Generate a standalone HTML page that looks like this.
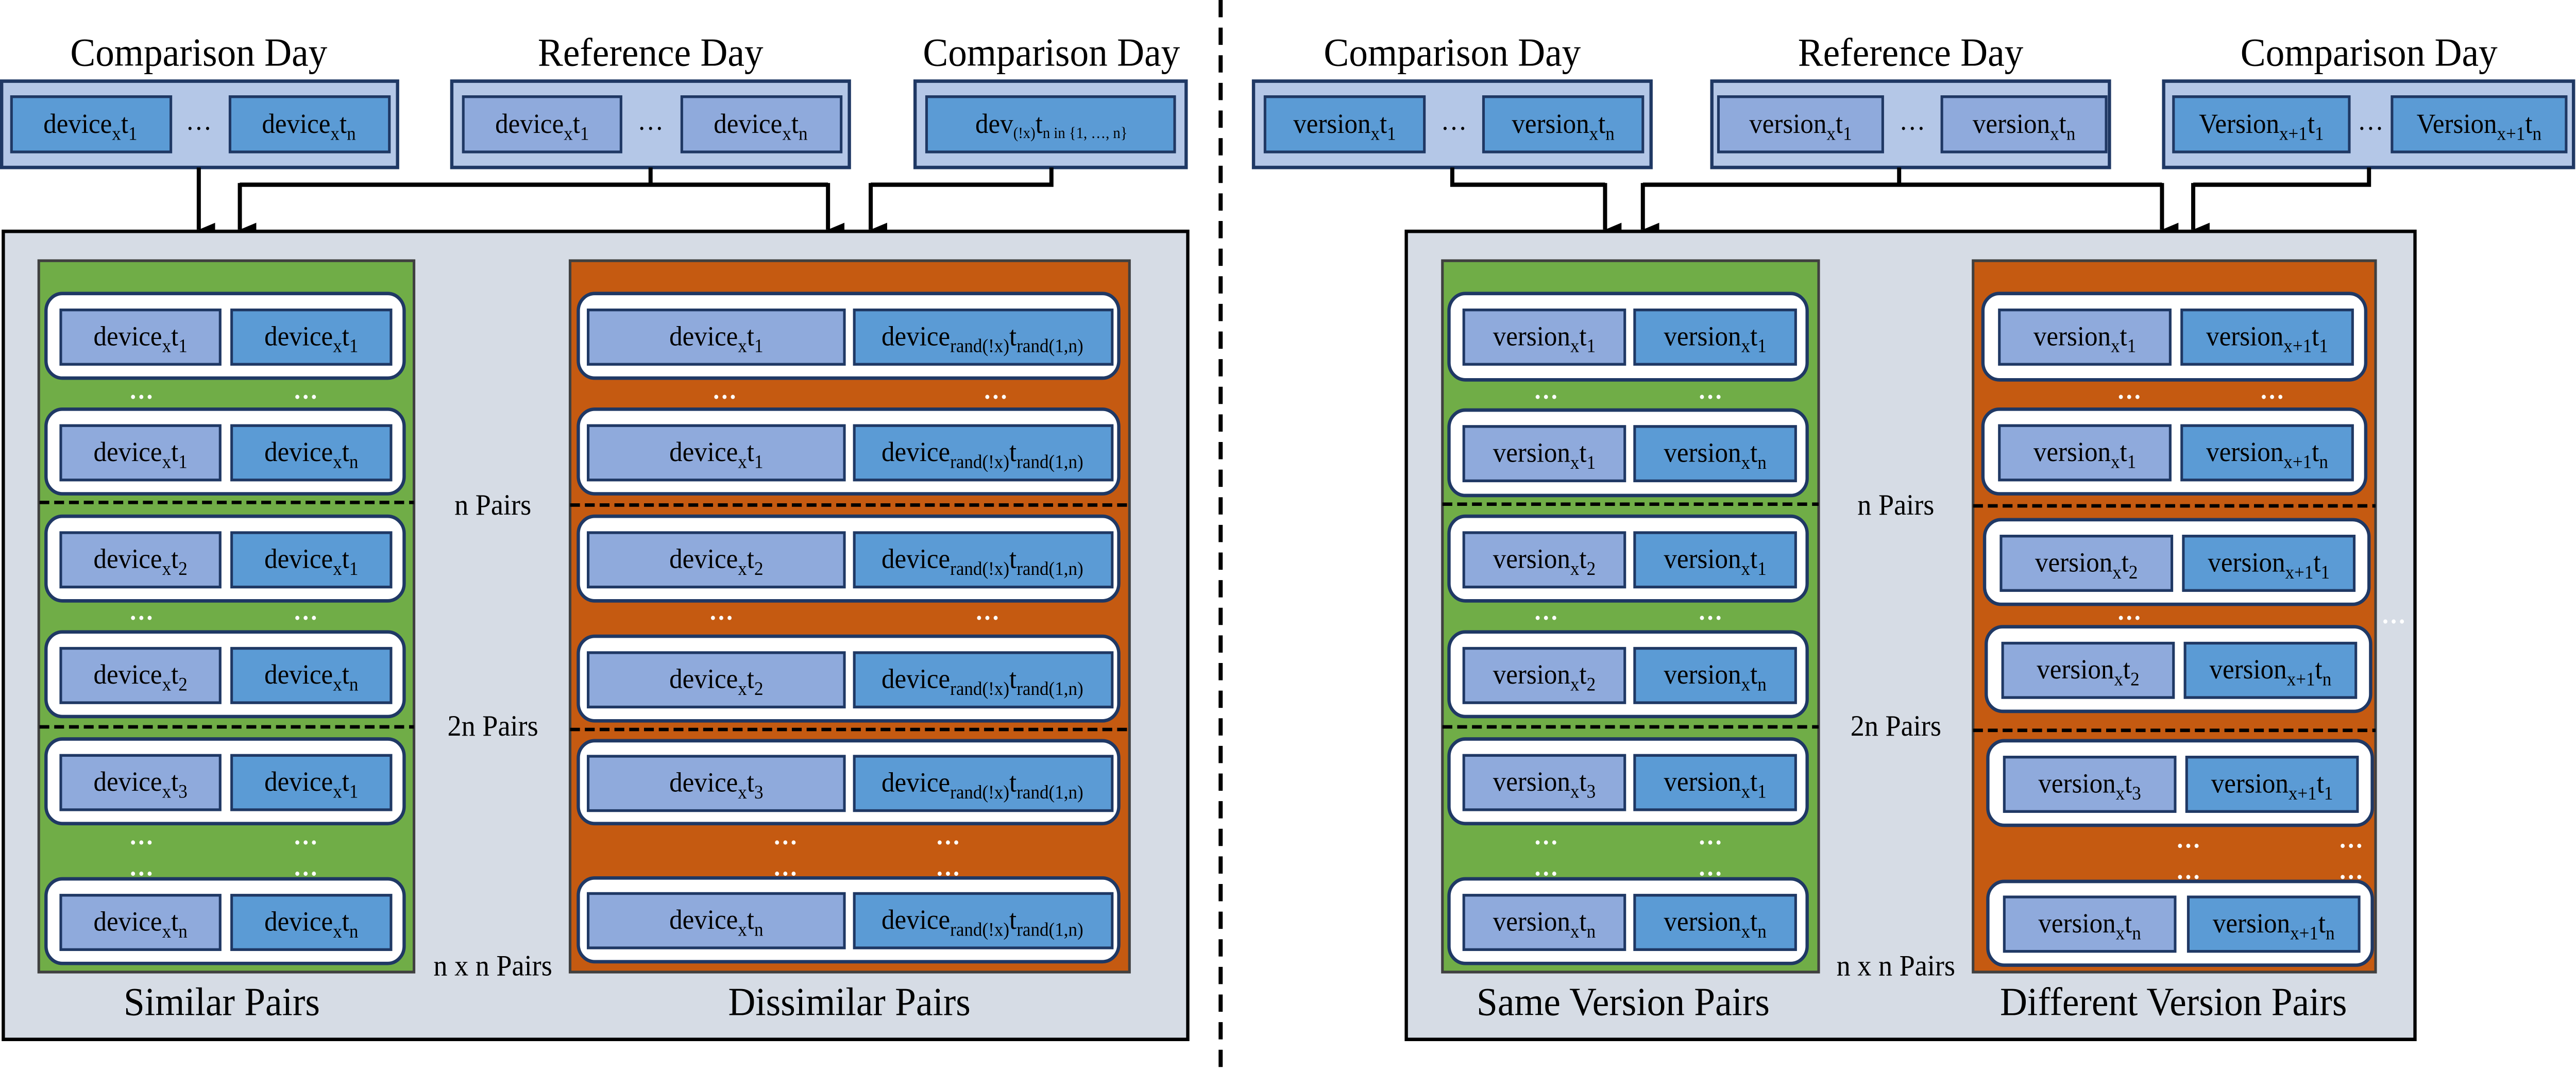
<!DOCTYPE html>
<html><head><meta charset="utf-8"><style>
html,body{margin:0;padding:0;background:#fff;width:100%;height:100%;overflow:hidden;}
svg{display:block;width:100vw;height:100vh;}
text{font-family:"Liberation Serif",serif;fill:#000;}
.t{font-size:16px;text-anchor:middle;}
.h{font-size:23px;text-anchor:middle;}
.p{font-size:17px;text-anchor:middle;}
.d{font-size:15px;fill:#fff;text-anchor:middle;font-weight:bold;}
.row{fill:#fff;stroke:#1F3864;stroke-width:2;}
.bl{fill:#8FAADC;stroke:#1F3864;stroke-width:1.6;}
.bm{fill:#5B9BD5;stroke:#1F3864;stroke-width:1.6;}
.top{fill:#B4C7E7;stroke:#1F3864;stroke-width:2;}
.dash{stroke:#000;stroke-width:2;stroke-dasharray:6 3;}
.ar{stroke:#000;stroke-width:2.5;fill:none;}
</style></head><body>
<svg viewBox="0 0 1568 620.3" preserveAspectRatio="none" xmlns="http://www.w3.org/2000/svg">
<defs>
<marker id="ah" markerWidth="8" markerHeight="10" refX="4" refY="10" orient="auto" markerUnits="userSpaceOnUse" viewBox="0 0 8 10"><path d="M0,0 L8,0 L4,10 z" fill="#000"/></marker>
</defs>
<rect x="0" y="0" width="1568" height="620.3" fill="#fff"/>
<line x1="743" y1="0" x2="743" y2="620" stroke="#000" stroke-width="2.5" stroke-dasharray="10 6"/>

<text class="h" x="121" y="38">Comparison Day</text>
<text class="h" x="396" y="38">Reference Day</text>
<text class="h" x="640" y="38">Comparison Day</text>
<rect class="top" x="1" y="47" width="241" height="50"/>
<rect class="bm" x="7" y="56" width="97" height="32"/>
<rect class="bm" x="140" y="56" width="97" height="32"/>
<text class="t" x="55" y="77">device<tspan dy="4" font-size="11">x</tspan><tspan dy="-4">t</tspan><tspan dy="4" font-size="11">1</tspan></text>
<text class="t" x="188" y="77">device<tspan dy="4" font-size="11">x</tspan><tspan dy="-4">t</tspan><tspan dy="4" font-size="11">n</tspan></text>
<text class="t" x="121" y="75">…</text>
<rect class="top" x="275" y="47" width="242" height="50"/>
<rect class="bl" x="282" y="56" width="96" height="32"/>
<rect class="bl" x="415" y="56" width="97" height="32"/>
<text class="t" x="330" y="77">device<tspan dy="4" font-size="11">x</tspan><tspan dy="-4">t</tspan><tspan dy="4" font-size="11">1</tspan></text>
<text class="t" x="463" y="77">device<tspan dy="4" font-size="11">x</tspan><tspan dy="-4">t</tspan><tspan dy="4" font-size="11">n</tspan></text>
<text class="t" x="396" y="75">…</text>
<rect class="top" x="557" y="47" width="165" height="50"/>
<rect class="bm" x="564" y="56" width="151" height="32"/>
<text class="t" x="640" y="77" font-size="14">dev<tspan dy="3" font-size="9">(!x)</tspan><tspan dy="-3">t</tspan><tspan dy="3" font-size="9">n in {1, …, n}</tspan></text>

<line class="ar" x1="121" y1="97" x2="121" y2="133" marker-end="url(#ah)"/>
<polyline class="ar" points="396,97 396,107"/>
<polyline class="ar" points="146,107 504,107"/>
<line class="ar" x1="146" y1="106" x2="146" y2="133" marker-end="url(#ah)"/>
<line class="ar" x1="504" y1="106" x2="504" y2="133" marker-end="url(#ah)"/>
<polyline class="ar" points="640,97 640,107 530,107"/>
<line class="ar" x1="530" y1="106" x2="530" y2="133" marker-end="url(#ah)"/>

<rect x="2" y="134" width="721" height="468" fill="#D6DCE5" stroke="#000" stroke-width="2"/>
<rect x="23.6" y="151" width="228.4" height="412" fill="#70AD47" stroke="#404040" stroke-width="1.6"/>
<rect x="347" y="151" width="340.5" height="412" fill="#C55A11" stroke="#404040" stroke-width="1.6"/>
<line class="dash" x1="24" y1="291" x2="252" y2="291"/>
<line class="dash" x1="24" y1="421" x2="252" y2="421"/>
<line class="dash" x1="347" y1="292.5" x2="687" y2="292.5"/>
<line class="dash" x1="347" y1="422.5" x2="687" y2="422.5"/>

<g>
<rect class="row" x="28" y="170" width="218" height="49" rx="10"/><rect class="bl" x="37" y="179.5" width="97" height="31.5"/><rect class="bm" x="141" y="179.5" width="97" height="31.5"/>
<text class="t" x="85.5" y="200">device<tspan dy="4" font-size="11">x</tspan><tspan dy="-4">t</tspan><tspan dy="4" font-size="11">1</tspan></text>
<text class="t" x="189.5" y="200">device<tspan dy="4" font-size="11">x</tspan><tspan dy="-4">t</tspan><tspan dy="4" font-size="11">1</tspan></text>
<rect class="row" x="28" y="237" width="218" height="49" rx="10"/><rect class="bl" x="37" y="246.5" width="97" height="31.5"/><rect class="bm" x="141" y="246.5" width="97" height="31.5"/>
<text class="t" x="85.5" y="267">device<tspan dy="4" font-size="11">x</tspan><tspan dy="-4">t</tspan><tspan dy="4" font-size="11">1</tspan></text>
<text class="t" x="189.5" y="267">device<tspan dy="4" font-size="11">x</tspan><tspan dy="-4">t</tspan><tspan dy="4" font-size="11">n</tspan></text>
<rect class="row" x="28" y="299" width="218" height="49" rx="10"/><rect class="bl" x="37" y="308.5" width="97" height="31.5"/><rect class="bm" x="141" y="308.5" width="97" height="31.5"/>
<text class="t" x="85.5" y="329">device<tspan dy="4" font-size="11">x</tspan><tspan dy="-4">t</tspan><tspan dy="4" font-size="11">2</tspan></text>
<text class="t" x="189.5" y="329">device<tspan dy="4" font-size="11">x</tspan><tspan dy="-4">t</tspan><tspan dy="4" font-size="11">1</tspan></text>
<rect class="row" x="28" y="366" width="218" height="49" rx="10"/><rect class="bl" x="37" y="375.5" width="97" height="31.5"/><rect class="bm" x="141" y="375.5" width="97" height="31.5"/>
<text class="t" x="85.5" y="396">device<tspan dy="4" font-size="11">x</tspan><tspan dy="-4">t</tspan><tspan dy="4" font-size="11">2</tspan></text>
<text class="t" x="189.5" y="396">device<tspan dy="4" font-size="11">x</tspan><tspan dy="-4">t</tspan><tspan dy="4" font-size="11">n</tspan></text>
<rect class="row" x="28" y="428" width="218" height="49" rx="10"/><rect class="bl" x="37" y="437.5" width="97" height="31.5"/><rect class="bm" x="141" y="437.5" width="97" height="31.5"/>
<text class="t" x="85.5" y="458">device<tspan dy="4" font-size="11">x</tspan><tspan dy="-4">t</tspan><tspan dy="4" font-size="11">3</tspan></text>
<text class="t" x="189.5" y="458">device<tspan dy="4" font-size="11">x</tspan><tspan dy="-4">t</tspan><tspan dy="4" font-size="11">1</tspan></text>
<rect class="row" x="28" y="509" width="218" height="49" rx="10"/><rect class="bl" x="37" y="518.5" width="97" height="31.5"/><rect class="bm" x="141" y="518.5" width="97" height="31.5"/>
<text class="t" x="85.5" y="539">device<tspan dy="4" font-size="11">x</tspan><tspan dy="-4">t</tspan><tspan dy="4" font-size="11">n</tspan></text>
<text class="t" x="189.5" y="539">device<tspan dy="4" font-size="11">x</tspan><tspan dy="-4">t</tspan><tspan dy="4" font-size="11">n</tspan></text>
<text class="d" x="86" y="231">…</text><text class="d" x="186" y="231">…</text>
<text class="d" x="86" y="359">…</text><text class="d" x="186" y="359">…</text>
<text class="d" x="86" y="489">…</text><text class="d" x="186" y="489">…</text>
<text class="d" x="86" y="507">…</text><text class="d" x="186" y="507">…</text>
</g>

<g>
<rect class="row" x="352" y="170" width="329" height="49" rx="10"/><rect class="bl" x="358" y="179.5" width="156" height="31.5"/><rect class="bm" x="520" y="179.5" width="157" height="31.5"/>
<text class="t" x="436" y="200">device<tspan dy="4" font-size="11">x</tspan><tspan dy="-4">t</tspan><tspan dy="4" font-size="11">1</tspan></text>
<text class="t" x="598" y="200">device<tspan dy="4" font-size="11">rand(!x)</tspan><tspan dy="-4">t</tspan><tspan dy="4" font-size="11">rand(1,n)</tspan></text>
<rect class="row" x="352" y="237" width="329" height="49" rx="10"/><rect class="bl" x="358" y="246.5" width="156" height="31.5"/><rect class="bm" x="520" y="246.5" width="157" height="31.5"/>
<text class="t" x="436" y="267">device<tspan dy="4" font-size="11">x</tspan><tspan dy="-4">t</tspan><tspan dy="4" font-size="11">1</tspan></text>
<text class="t" x="598" y="267">device<tspan dy="4" font-size="11">rand(!x)</tspan><tspan dy="-4">t</tspan><tspan dy="4" font-size="11">rand(1,n)</tspan></text>
<rect class="row" x="352" y="299" width="329" height="49" rx="10"/><rect class="bl" x="358" y="308.5" width="156" height="31.5"/><rect class="bm" x="520" y="308.5" width="157" height="31.5"/>
<text class="t" x="436" y="329">device<tspan dy="4" font-size="11">x</tspan><tspan dy="-4">t</tspan><tspan dy="4" font-size="11">2</tspan></text>
<text class="t" x="598" y="329">device<tspan dy="4" font-size="11">rand(!x)</tspan><tspan dy="-4">t</tspan><tspan dy="4" font-size="11">rand(1,n)</tspan></text>
<rect class="row" x="352" y="368.5" width="329" height="49" rx="10"/><rect class="bl" x="358" y="378" width="156" height="31.5"/><rect class="bm" x="520" y="378" width="157" height="31.5"/>
<text class="t" x="436" y="398.5">device<tspan dy="4" font-size="11">x</tspan><tspan dy="-4">t</tspan><tspan dy="4" font-size="11">2</tspan></text>
<text class="t" x="598" y="398.5">device<tspan dy="4" font-size="11">rand(!x)</tspan><tspan dy="-4">t</tspan><tspan dy="4" font-size="11">rand(1,n)</tspan></text>
<rect class="row" x="352" y="429" width="329" height="48" rx="10"/><rect class="bl" x="358" y="438" width="156" height="31.5"/><rect class="bm" x="520" y="438" width="157" height="31.5"/>
<text class="t" x="436" y="458.5">device<tspan dy="4" font-size="11">x</tspan><tspan dy="-4">t</tspan><tspan dy="4" font-size="11">3</tspan></text>
<text class="t" x="598" y="458.5">device<tspan dy="4" font-size="11">rand(!x)</tspan><tspan dy="-4">t</tspan><tspan dy="4" font-size="11">rand(1,n)</tspan></text>
<rect class="row" x="352" y="508.5" width="329" height="48.5" rx="10"/><rect class="bl" x="358" y="517.5" width="156" height="31.5"/><rect class="bm" x="520" y="517.5" width="157" height="31.5"/>
<text class="t" x="436" y="538">device<tspan dy="4" font-size="11">x</tspan><tspan dy="-4">t</tspan><tspan dy="4" font-size="11">n</tspan></text>
<text class="t" x="598" y="538">device<tspan dy="4" font-size="11">rand(!x)</tspan><tspan dy="-4">t</tspan><tspan dy="4" font-size="11">rand(1,n)</tspan></text>
<text class="d" x="441" y="231">…</text><text class="d" x="606" y="231">…</text>
<text class="d" x="439" y="359">…</text><text class="d" x="601" y="359">…</text>
<text class="d" x="478" y="489">…</text><text class="d" x="577" y="489">…</text>
<text class="d" x="478" y="507">…</text><text class="d" x="577" y="507">…</text>
</g>

<text class="p" x="300" y="298">n Pairs</text>
<text class="p" x="300" y="426">2n Pairs</text>
<text class="p" x="300" y="565">n x n Pairs</text>
<text class="h" x="135" y="588">Similar Pairs</text>
<text class="h" x="517" y="588">Dissimilar Pairs</text>

<text class="h" x="884" y="38">Comparison Day</text>
<text class="h" x="1163" y="38">Reference Day</text>
<text class="h" x="1442" y="38">Comparison Day</text>
<rect class="top" x="763" y="47" width="242" height="50"/>
<rect class="bm" x="770" y="56" width="97" height="32"/>
<rect class="bm" x="903" y="56" width="97" height="32"/>
<text class="t" x="818.5" y="77">version<tspan dy="4" font-size="11">x</tspan><tspan dy="-4">t</tspan><tspan dy="4" font-size="11">1</tspan></text>
<text class="t" x="951.5" y="77">version<tspan dy="4" font-size="11">x</tspan><tspan dy="-4">t</tspan><tspan dy="4" font-size="11">n</tspan></text>
<text class="t" x="885" y="75">…</text>
<rect class="top" x="1042" y="47" width="242" height="50"/>
<rect class="bl" x="1046" y="56" width="100" height="32"/>
<rect class="bl" x="1182" y="56" width="100" height="32"/>
<text class="t" x="1096" y="77">version<tspan dy="4" font-size="11">x</tspan><tspan dy="-4">t</tspan><tspan dy="4" font-size="11">1</tspan></text>
<text class="t" x="1232" y="77">version<tspan dy="4" font-size="11">x</tspan><tspan dy="-4">t</tspan><tspan dy="4" font-size="11">n</tspan></text>
<text class="t" x="1164" y="75">…</text>
<rect class="top" x="1317" y="47" width="249.5" height="50"/>
<rect class="bm" x="1323" y="56" width="107" height="32"/>
<rect class="bm" x="1456" y="56" width="106" height="32"/>
<text class="t" x="1376.5" y="77">Version<tspan dy="4" font-size="11">x+1</tspan><tspan dy="-4">t</tspan><tspan dy="4" font-size="11">1</tspan></text>
<text class="t" x="1509" y="77">Version<tspan dy="4" font-size="11">x+1</tspan><tspan dy="-4">t</tspan><tspan dy="4" font-size="11">n</tspan></text>
<text class="t" x="1443" y="75">…</text>

<polyline class="ar" points="884,97 884,107 977,107"/>
<line class="ar" x1="977" y1="106" x2="977" y2="133" marker-end="url(#ah)"/>
<polyline class="ar" points="1156,97 1156,107"/>
<polyline class="ar" points="1000,107 1316,107"/>
<line class="ar" x1="1000" y1="106" x2="1000" y2="133" marker-end="url(#ah)"/>
<line class="ar" x1="1316" y1="106" x2="1316" y2="133" marker-end="url(#ah)"/>
<polyline class="ar" points="1442,97 1442,107 1335,107"/>
<line class="ar" x1="1335" y1="106" x2="1335" y2="133" marker-end="url(#ah)"/>

<rect x="856" y="134" width="614" height="468" fill="#D6DCE5" stroke="#000" stroke-width="2"/>
<rect x="878" y="151" width="229" height="412" fill="#70AD47" stroke="#404040" stroke-width="1.6"/>
<rect x="1201" y="151" width="245" height="412" fill="#C55A11" stroke="#404040" stroke-width="1.6"/>
<line class="dash" x1="878" y1="292" x2="1107" y2="292"/>
<line class="dash" x1="878" y1="421" x2="1107" y2="421"/>
<line class="dash" x1="1201" y1="293" x2="1446" y2="293"/>
<line class="dash" x1="1201" y1="423" x2="1446" y2="423"/>

<g>
<rect class="row" x="882" y="170" width="218" height="50" rx="10"/><rect class="bl" x="891" y="179.5" width="98" height="31.5"/><rect class="bm" x="995" y="179.5" width="98" height="31.5"/>
<text class="t" x="940" y="200">version<tspan dy="4" font-size="11">x</tspan><tspan dy="-4">t</tspan><tspan dy="4" font-size="11">1</tspan></text>
<text class="t" x="1044" y="200">version<tspan dy="4" font-size="11">x</tspan><tspan dy="-4">t</tspan><tspan dy="4" font-size="11">1</tspan></text>
<rect class="row" x="882" y="237.5" width="218" height="49.5" rx="10"/><rect class="bl" x="891" y="247" width="98" height="31.5"/><rect class="bm" x="995" y="247" width="98" height="31.5"/>
<text class="t" x="940" y="267.5">version<tspan dy="4" font-size="11">x</tspan><tspan dy="-4">t</tspan><tspan dy="4" font-size="11">1</tspan></text>
<text class="t" x="1044" y="267.5">version<tspan dy="4" font-size="11">x</tspan><tspan dy="-4">t</tspan><tspan dy="4" font-size="11">n</tspan></text>
<rect class="row" x="882" y="299" width="218" height="49" rx="10"/><rect class="bl" x="891" y="308.5" width="98" height="31.5"/><rect class="bm" x="995" y="308.5" width="98" height="31.5"/>
<text class="t" x="940" y="329">version<tspan dy="4" font-size="11">x</tspan><tspan dy="-4">t</tspan><tspan dy="4" font-size="11">2</tspan></text>
<text class="t" x="1044" y="329">version<tspan dy="4" font-size="11">x</tspan><tspan dy="-4">t</tspan><tspan dy="4" font-size="11">1</tspan></text>
<rect class="row" x="882" y="366" width="218" height="49" rx="10"/><rect class="bl" x="891" y="375.5" width="98" height="31.5"/><rect class="bm" x="995" y="375.5" width="98" height="31.5"/>
<text class="t" x="940" y="396">version<tspan dy="4" font-size="11">x</tspan><tspan dy="-4">t</tspan><tspan dy="4" font-size="11">2</tspan></text>
<text class="t" x="1044" y="396">version<tspan dy="4" font-size="11">x</tspan><tspan dy="-4">t</tspan><tspan dy="4" font-size="11">n</tspan></text>
<rect class="row" x="882" y="428" width="218" height="49" rx="10"/><rect class="bl" x="891" y="437.5" width="98" height="31.5"/><rect class="bm" x="995" y="437.5" width="98" height="31.5"/>
<text class="t" x="940" y="458">version<tspan dy="4" font-size="11">x</tspan><tspan dy="-4">t</tspan><tspan dy="4" font-size="11">3</tspan></text>
<text class="t" x="1044" y="458">version<tspan dy="4" font-size="11">x</tspan><tspan dy="-4">t</tspan><tspan dy="4" font-size="11">1</tspan></text>
<rect class="row" x="882" y="509" width="218" height="49" rx="10"/><rect class="bl" x="891" y="518.5" width="98" height="31.5"/><rect class="bm" x="995" y="518.5" width="98" height="31.5"/>
<text class="t" x="940" y="539">version<tspan dy="4" font-size="11">x</tspan><tspan dy="-4">t</tspan><tspan dy="4" font-size="11">n</tspan></text>
<text class="t" x="1044" y="539">version<tspan dy="4" font-size="11">x</tspan><tspan dy="-4">t</tspan><tspan dy="4" font-size="11">n</tspan></text>
<text class="d" x="941" y="231">…</text><text class="d" x="1041" y="231">…</text>
<text class="d" x="941" y="359">…</text><text class="d" x="1041" y="359">…</text>
<text class="d" x="941" y="489">…</text><text class="d" x="1041" y="489">…</text>
<text class="d" x="941" y="507">…</text><text class="d" x="1041" y="507">…</text>
</g>

<g>
<rect class="row" x="1207" y="170" width="233" height="50" rx="10"/><rect class="bl" x="1217" y="179.5" width="104" height="31.5"/><rect class="bm" x="1328" y="179.5" width="104" height="31.5"/>
<text class="t" x="1269" y="200">version<tspan dy="4" font-size="11">x</tspan><tspan dy="-4">t</tspan><tspan dy="4" font-size="11">1</tspan></text>
<text class="t" x="1380" y="200">version<tspan dy="4" font-size="11">x+1</tspan><tspan dy="-4">t</tspan><tspan dy="4" font-size="11">1</tspan></text>
<rect class="row" x="1207" y="237" width="233" height="49" rx="10"/><rect class="bl" x="1217" y="246.5" width="104" height="31.5"/><rect class="bm" x="1328" y="246.5" width="104" height="31.5"/>
<text class="t" x="1269" y="267">version<tspan dy="4" font-size="11">x</tspan><tspan dy="-4">t</tspan><tspan dy="4" font-size="11">1</tspan></text>
<text class="t" x="1380" y="267">version<tspan dy="4" font-size="11">x+1</tspan><tspan dy="-4">t</tspan><tspan dy="4" font-size="11">n</tspan></text>
<rect class="row" x="1208" y="301" width="234" height="49" rx="10"/><rect class="bl" x="1218" y="310.5" width="104" height="31.5"/><rect class="bm" x="1329" y="310.5" width="104" height="31.5"/>
<text class="t" x="1270" y="331">version<tspan dy="4" font-size="11">x</tspan><tspan dy="-4">t</tspan><tspan dy="4" font-size="11">2</tspan></text>
<text class="t" x="1381" y="331">version<tspan dy="4" font-size="11">x+1</tspan><tspan dy="-4">t</tspan><tspan dy="4" font-size="11">1</tspan></text>
<rect class="row" x="1209" y="363" width="234" height="49" rx="10"/><rect class="bl" x="1219" y="372.5" width="104" height="31.5"/><rect class="bm" x="1330" y="372.5" width="104" height="31.5"/>
<text class="t" x="1271" y="393">version<tspan dy="4" font-size="11">x</tspan><tspan dy="-4">t</tspan><tspan dy="4" font-size="11">2</tspan></text>
<text class="t" x="1382" y="393">version<tspan dy="4" font-size="11">x+1</tspan><tspan dy="-4">t</tspan><tspan dy="4" font-size="11">n</tspan></text>
<rect class="row" x="1210" y="429" width="234" height="49" rx="10"/><rect class="bl" x="1220" y="438.5" width="104" height="31.5"/><rect class="bm" x="1331" y="438.5" width="104" height="31.5"/>
<text class="t" x="1272" y="459">version<tspan dy="4" font-size="11">x</tspan><tspan dy="-4">t</tspan><tspan dy="4" font-size="11">3</tspan></text>
<text class="t" x="1383" y="459">version<tspan dy="4" font-size="11">x+1</tspan><tspan dy="-4">t</tspan><tspan dy="4" font-size="11">1</tspan></text>
<rect class="row" x="1210" y="510.5" width="234" height="48.5" rx="10"/><rect class="bl" x="1220" y="519.5" width="104" height="31.5"/><rect class="bm" x="1332" y="519.5" width="104" height="31.5"/>
<text class="t" x="1272" y="540">version<tspan dy="4" font-size="11">x</tspan><tspan dy="-4">t</tspan><tspan dy="4" font-size="11">n</tspan></text>
<text class="t" x="1384" y="540">version<tspan dy="4" font-size="11">x+1</tspan><tspan dy="-4">t</tspan><tspan dy="4" font-size="11">n</tspan></text>
<text class="d" x="1296" y="231">…</text><text class="d" x="1383" y="231">…</text>
<text class="d" x="1296" y="359">…</text>
<text class="d" x="1332" y="491">…</text><text class="d" x="1431" y="491">…</text>
<text class="d" x="1332" y="509">…</text><text class="d" x="1431" y="509">…</text>
<text class="d" x="1457" y="361" font-weight="normal">…</text>
</g>

<text class="p" x="1154" y="298">n Pairs</text>
<text class="p" x="1154" y="426">2n Pairs</text>
<text class="p" x="1154" y="565">n x n Pairs</text>
<text class="h" x="988" y="588">Same Version Pairs</text>
<text class="h" x="1323" y="588">Different Version Pairs</text>
</svg>
</body></html>
